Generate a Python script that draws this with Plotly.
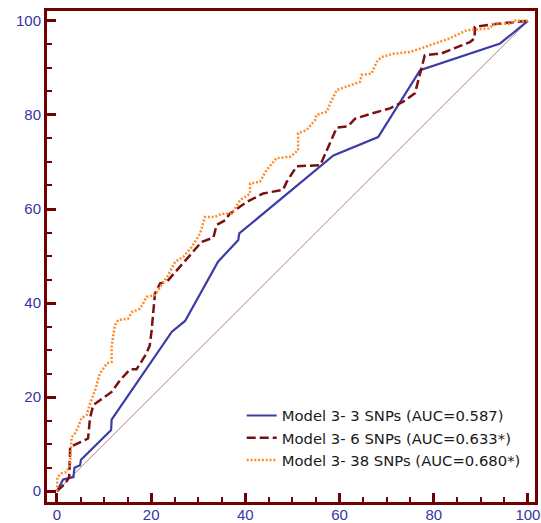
import plotly.graph_objects as go

# Model 3 - 3 SNPs
x3 = [0, 1.3, 3.5, 3.7, 4.9, 5.1, 11.5, 11.6, 24.4, 27.2, 34.2, 38.5, 38.7, 58.7, 68.2, 77.1, 94.1, 100]
y3 = [0, 2.5, 3.0, 5.0, 5.5, 6.7, 13.0, 15.2, 33.9, 36.2, 48.8, 53.4, 54.8, 71.4, 75.3, 89.5, 95.2, 100]

# Model 3 - 6 SNPs
x6 = [0, 1.7, 2.6, 2.8, 6.6, 7.0, 7.7, 11.6, 13.4, 15.5, 16.9, 19.0, 19.7, 20.1, 20.8, 21.9, 23.3,
      30.7, 33.2, 33.9, 35.7, 36.7, 40.3, 43.8, 48.0, 48.8, 50.9, 55.8, 56.2, 58.3, 59.4, 61.8, 63.3,
      67.2, 70.7, 73.5, 76.0, 77.4, 78.1, 81.7, 83.4, 87.7, 88.7, 88.7, 92.6, 96.2, 100]
y6 = [0, 1.6, 3.0, 9.4, 11.2, 15.5, 18.3, 21.1, 23.6, 25.9, 25.9, 29.3, 31.0, 34.2, 42.0, 44.2, 44.5,
      53.0, 53.9, 56.6, 57.6, 59.0, 61.5, 63.3, 64.1, 65.8, 69.1, 69.3, 70.0, 74.6, 77.3, 77.6, 79.2,
      80.4, 81.4, 82.8, 84.6, 89.9, 92.7, 93.1, 93.8, 95.5, 96.3, 98.7, 99.3, 99.6, 100]

# Model 3 - 38 SNPs
x38 = [0, 0.1, 1.0, 2.1, 2.8, 3.1, 3.8, 4.5, 5.2, 6.3, 7.0, 8.1, 9.1, 10.6, 11.6, 11.6, 12.3, 13.0,
       15.1, 15.9, 17.6, 18.3, 19.0, 20.8, 22.9, 23.6, 25.1, 26.8, 28.6, 30.4, 31.4, 33.5, 35.0, 37.1,
       38.9, 41.0, 41.0, 43.1, 44.5, 46.6, 49.5, 51.2, 51.2, 53.0, 54.8, 55.1, 57.3, 58.0, 59.4, 62.2,
       64.3, 64.7, 66.8, 67.9, 68.9, 71.4, 74.9, 77.1, 79.2, 81.0, 83.4, 87.0, 91.9, 92.6, 96.2, 96.9, 100]
y38 = [0, 3.0, 3.8, 4.1, 5.9, 11.5, 12.3, 13.7, 15.5, 16.2, 18.6, 21.5, 25.0, 27.2, 27.5, 30.7, 35.3, 36.4,
       36.7, 38.1, 38.8, 39.9, 41.3, 41.7, 44.9, 45.9, 48.8, 49.8, 51.9, 54.8, 58.3, 58.3, 59.0, 59.0,
       61.9, 63.3, 65.4, 65.8, 68.3, 70.8, 71.1, 72.5, 76.1, 76.8, 78.9, 80.0, 80.7, 82.4, 85.3, 86.3,
       87.0, 88.5, 88.8, 91.3, 92.3, 93.0, 93.4, 94.1, 94.8, 95.5, 96.3, 98.0, 98.4, 99.3, 99.4, 100.1, 100]

diag = [0, 100]

names = ["Model 3- 3 SNPs (AUC=0.587)", "Model 3- 6 SNPs (AUC=0.633*)", "Model 3- 38 SNPs (AUC=0.680*)"]

fig = go.Figure()
fig.add_trace(go.Scatter(x=diag, y=diag, mode="lines", showlegend=False,
                         line=dict(color="rgba(160,70,70,0.7)", width=1)))
fig.add_trace(go.Scatter(x=x3, y=y3, mode="lines", name=names[0],
                         line=dict(color="#3c3ca6", width=2.2)))
fig.add_trace(go.Scatter(x=x6, y=y6, mode="lines", name=names[1],
                         line=dict(color="#7a1010", width=2.5, dash="9px,4px")))
fig.add_trace(go.Scatter(x=x38, y=y38, mode="lines", name=names[2],
                         line=dict(color="#ff8a2a", width=2.5, dash="2px,1.8px")))

axcol = "#730000"
tickfont = dict(family="Liberation Sans, Arial", size=15, color="#3535a8")
common = dict(showline=True, linecolor=axcol, linewidth=3, mirror=True,
              ticks="inside", ticklen=9, tickwidth=3, tickcolor=axcol, automargin=False,
              dtick=20, tick0=0, showgrid=False, zeroline=False, tickfont=tickfont,
              minor=dict(dtick=5, ticks="inside", ticklen=5, tickwidth=2, tickcolor=axcol))

fig.update_xaxes(range=[-2.12, 101.5], ticklabelstandoff=-3, **common)
fig.update_yaxes(range=[-2.3, 102.1], **common)

fig.update_layout(
    width=541, height=523,
    margin=dict(l=47, r=6, t=11, b=21, autoexpand=False),
    plot_bgcolor="white", paper_bgcolor="white",
    legend=dict(x=0.399, y=0.209, xanchor="left", yanchor="top",
                font=dict(family="DejaVu Sans", size=14.8, color="#1a1a1a"),
                bgcolor="rgba(0,0,0,0)", tracegroupgap=0, itemwidth=30),
)

fig.write_html("out.html", config={"displayModeBar": False},
               post_script="document.body.style.margin='0';")
